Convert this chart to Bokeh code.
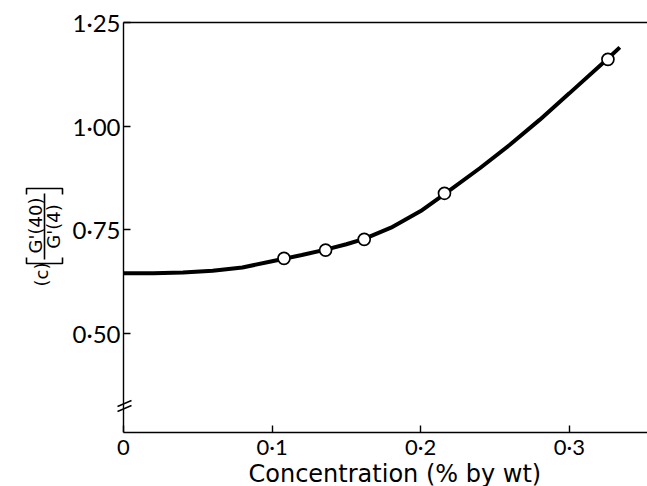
from math import pi

from bokeh.core.properties import value
from bokeh.embed import file_html
from bokeh.models import FixedTicker, Range1d, Title
from bokeh.plotting import figure
from bokeh.resources import INLINE

# Measured points: concentration (% by wt) and the G'(40)/G'(4) ratio
conc_points = [0.108, 0.136, 0.162, 0.216, 0.326]
ratio_points = [0.681, 0.701, 0.727, 0.838, 1.161]

# Hand-drawn smooth curve through the points
curve_conc = [0.0, 0.02, 0.04, 0.06, 0.08, 0.10, 0.108, 0.12, 0.136, 0.15,
              0.162, 0.18, 0.20, 0.216, 0.24, 0.26, 0.28, 0.30, 0.326, 0.334]
curve_ratio = [0.645, 0.645, 0.647, 0.651, 0.659, 0.674, 0.680, 0.689, 0.702, 0.715,
               0.728, 0.755, 0.795, 0.836, 0.899, 0.955, 1.015, 1.079, 1.163, 1.190]

x_ticks = [0, 0.1, 0.2, 0.3]
x_tick_labels = ["0", "0·1", "0·2", "0·3"]
y_ticks = [0.5, 0.75, 1.0, 1.25]
y_tick_labels = ["0·50", "0·75", "1·00", "1·25"]
y_axis_top = 1.25

FONT = "Lato"
W, H = 647, 486
BOTTOM = 54
FRAME_H = H - BOTTOM
PX_PER_UNIT = 1486.0          # horizontal scale, pixels per % by wt
AXIS_PX = 123                 # page x of concentration 0
X_START = -AXIS_PX / PX_PER_UNIT
X_END = X_START + W / PX_PER_UNIT
Y_PER_PX = 0.002412           # ratio units per vertical pixel
Y_START = 0.261
Y_END = Y_START + FRAME_H * Y_PER_PX

p = figure(width=W, height=H,
           x_range=Range1d(X_START, X_END), y_range=Range1d(Y_START, Y_END),
           output_backend="svg", toolbar_location=None,
           min_border_left=0, min_border_right=0,
           min_border_top=0, min_border_bottom=BOTTOM)
p.outline_line_color = None
p.grid.visible = False
p.background_fill_color = "white"
p.border_fill_color = "white"


# page pixel -> data helpers for the decorations drawn left of the axis
def dx(px):
    return X_START + px / PX_PER_UNIT


def dy(py):
    return Y_END - py * Y_PER_PX


def style_axis(ax):
    ax.axis_line_color = "black"
    ax.axis_line_width = 1.4
    ax.major_tick_line_color = "black"
    ax.major_tick_line_width = 1.4
    ax.major_tick_in = 7
    ax.major_tick_out = 0
    ax.minor_tick_line_color = None
    ax.major_label_text_font = FONT
    ax.major_label_text_color = "black"


xa = p.xaxis[0]
style_axis(xa)
xa.bounds = (0, X_END)
xa.ticker = FixedTicker(ticks=x_ticks)
xa.major_label_overrides = dict(zip(x_ticks, x_tick_labels))
xa.major_label_text_font_size = "22px"
xa.major_label_standoff = 0

ya = p.yaxis[0]
style_axis(ya)
ya.fixed_location = 0
ya.bounds = (Y_START, y_axis_top)
ya.ticker = FixedTicker(ticks=y_ticks)
ya.major_label_overrides = dict(zip(y_ticks, y_tick_labels))
ya.major_label_text_font_size = "24px"
ya.major_label_standoff = 3

# x-axis title, placed under the span of the axis
p.add_layout(Title(text="Concentration (% by wt)", align="left", offset=248,
                   standoff=-6, vertical_align="top",
                   text_font="DejaVu Sans", text_font_size="24px",
                   text_font_style="normal", text_color="black"), "below")

# top edge of the frame, starting at the vertical axis
p.segment(x0=[0], y0=[y_axis_top], x1=[X_END], y1=[y_axis_top],
          line_color="black", line_width=1.4)

# curve and open circles
p.line(curve_conc, curve_ratio, line_color="black", line_width=4)
p.scatter(conc_points, ratio_points, size=12, marker="circle",
          fill_color="white", line_color="black", line_width=1.7)

# axis break marks across the vertical axis
p.multi_line(xs=[[dx(117), dx(131)], [dx(117), dx(131)]],
             ys=[[dy(406), dy(400)], [dy(411), dy(405)]],
             line_color="black", line_width=1.4)

# rotated y-axis title: (c)[G'(40) / G'(4)]
p.text(x=[dx(41)], y=[dy(274)], text=["(c)"], angle=pi / 2,
       text_align="center", text_baseline="middle",
       text_font=value("DejaVu Sans"), text_font_size="18px", text_color="black")
p.text(x=[dx(35), dx(53)], y=[dy(225), dy(226)], text=["G'(40)", "G'(4)"],
       angle=pi / 2, text_align="center", text_baseline="middle",
       text_font=value("DejaVu Sans"), text_font_size="18px", text_color="black")

# fraction bar and the square brackets around the ratio
p.multi_line(
    xs=[[dx(44), dx(44)],
        [dx(26), dx(26), dx(62), dx(62)],
        [dx(26), dx(26), dx(62), dx(62)]],
    ys=[[dy(193), dy(259)],
        [dy(257), dy(263), dy(263), dy(257)],
        [dy(194), dy(188), dy(188), dy(194)]],
    line_color="black", line_width=1.6)

open("out.html", "w").write(file_html(p, INLINE))
